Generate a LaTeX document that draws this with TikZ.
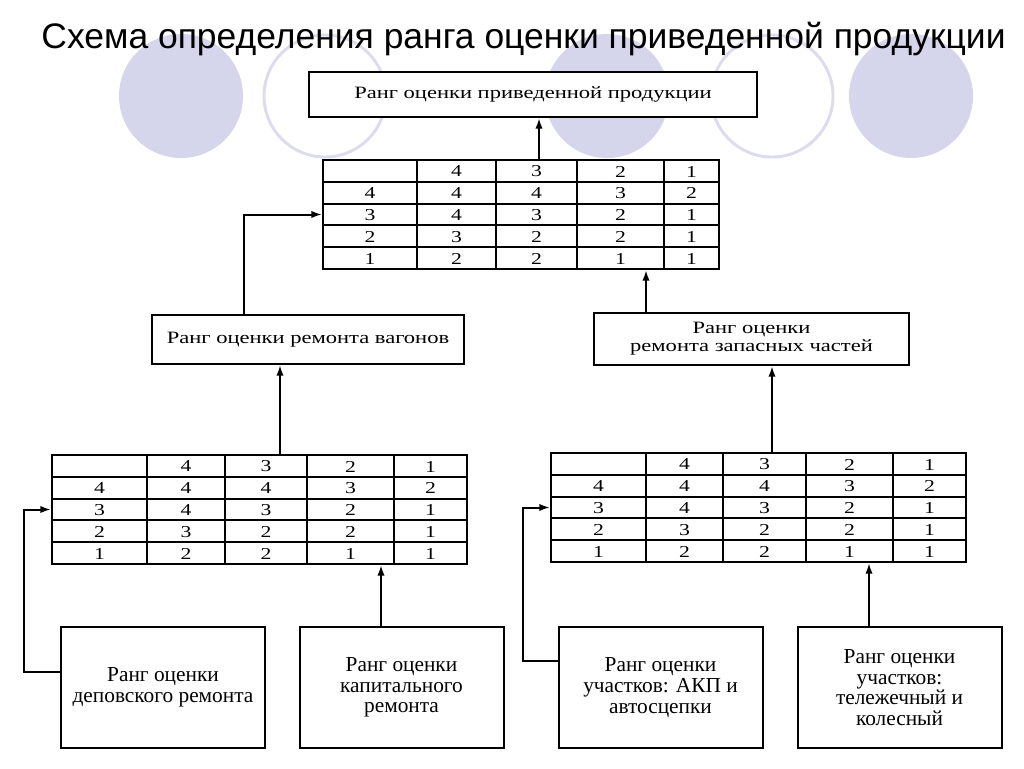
\documentclass[tikz,border=0pt]{standalone}
\usepackage{fontspec}
\setmainfont{Liberation Serif}
\newfontfamily\titlefont{Liberation Sans}
\newfontfamily\wideserif[FakeStretch=1.3]{Liberation Serif}
\usetikzlibrary{arrows.meta, positioning, fit, calc}

\definecolor{lavfill}{RGB}{213,213,235}
\definecolor{lavline}{RGB}{220,220,238}

\tikzset{
  rankbox/.style={draw=black, fill=white, line width=1.5pt, inner sep=0pt, align=center},
  widebox/.style={rankbox, font=\wideserif\fontsize{13}{13.5}\selectfont},
  lowbox/.style={rankbox, minimum width=153pt, minimum height=90.75pt, font=\fontsize{16}{15.5}\selectfont},
  cell/.style={inner sep=0pt, font=\wideserif\fontsize{12.5}{12.5}\selectfont},
  gridline/.style={line width=1.5pt},
  conn/.style={line width=1.5pt, -{Latex[length=8pt,width=5.5pt]}},
}

% таблица рангов: имя, границы столбцов, верхний край
\newcommand{\ranktable}[3]{%
  \def\tcols{{#2}}%
  \pgfmathsetmacro\tabl{\tcols[0]}%
  \pgfmathsetmacro\tabr{\tcols[5]}%
  \pgfmathsetmacro\tabb{#3+109}%
  \node[fit={(\tabl,#3) (\tabr,\tabb)}, inner sep=0pt, draw, fill=white, line width=1.5pt] (#1) {};
  \foreach \k in {1,...,4} {
    \pgfmathsetmacro\colx{\tcols[\k]}
    \draw[gridline] (\colx,#3) -- (\colx,\tabb);
    \draw[gridline] (\tabl,#3+\k*21.8) -- (\tabr,#3+\k*21.8);
  }
  \foreach \row [count=\ri from 0] in {{,4,3,2,1},{4,4,4,3,2},{3,4,3,2,1},{2,3,2,2,1},{1,2,2,1,1}} {
    \foreach \val [count=\ci from 0] in \row {
      \pgfmathsetmacro\xa{\tcols[\ci]}
      \pgfmathtruncatemacro\cj{\ci+1}
      \pgfmathsetmacro\xb{\tcols[\cj]}
      \node[cell] (#1-\ri-\ci) at ({(\xa+\xb)/2},#3+\ri*21.8+11.5) {\val};
    }
  }
}

\begin{document}
\begin{tikzpicture}[x=0.75pt, y=-0.75pt]
  \useasboundingbox (0,0) rectangle (1024,768);
  \fill[white] (0,0) rectangle (1024,768);

  % фоновые круги
  \fill[lavfill] (181,96) circle (62);
  \draw[lavline, line width=2.2pt] (325,96) circle (61);
  \fill[lavfill] (607,96) circle (62);
  \draw[lavline, line width=2.2pt] (772,96) circle (61);
  \fill[lavfill] (911,96) circle (62);

  \node[font=\titlefont\fontsize{26.6}{27}\selectfont, anchor=base] (title) at (523.5,48)
    {Схема определения ранга оценки приведенной продукции};

  \node[widebox, minimum width=336pt, minimum height=33.75pt] (prod) at (533,94.5)
    {Ранг оценки приведенной продукции};

  \ranktable{tabTop}{323,417,496,577,664,719}{160}

  \node[widebox, minimum width=234pt, minimum height=36.75pt] (vag) at (308,339.5)
    {Ранг оценки ремонта вагонов};
  \node[widebox, minimum width=236.25pt, minimum height=39pt] (zap) at (751.5,339)
    {Ранг оценки\\ремонта запасных частей};

  \ranktable{tabL}{52,147,225,307,394,467}{455}
  \ranktable{tabR}{551,646,723,806,893,966}{453}

  \node[lowbox] (dep) at (163,687.5) {Ранг оценки\\деповского ремонта};
  \node[lowbox] (kap) at (401.5,687.5) {Ранг оценки\\капитального\\ремонта};
  \node[lowbox] (akp) at (660.5,687.5) {Ранг оценки\\участков: АКП и\\автосцепки};
  \node[lowbox] (tel) at (899.5,687.5) {Ранг оценки\\участков:\\тележечный и\\колесный};

  % точки привязки стрелок
  \coordinate (xTop) at (539,0);
  \coordinate (xVag) at (244,0);
  \coordinate (xZap) at (646,0);
  \coordinate (xL) at (280,0);
  \coordinate (xR) at (772,0);
  \coordinate (xKap) at (381,0);
  \coordinate (xTel) at (869,0);
  \coordinate (yDep) at (0,672);
  \coordinate (yAkp) at (0,661);

  \draw[conn] (tabTop.north -| xTop) -- (prod.south -| xTop);
  \draw[conn] (vag.north -| xVag) |- (tabTop.west);
  \draw[conn] (zap.north -| xZap) -- (tabTop.south -| xZap);
  \draw[conn] (tabL.north -| xL) -- (vag.south -| xL);
  \draw[conn] (tabR.north -| xR) -- (zap.south -| xR);
  \draw[conn] (dep.west |- yDep) -- ++(-36,0) |- (tabL.west);
  \draw[conn] (kap.north -| xKap) -- (tabL.south -| xKap);
  \draw[conn] (akp.west |- yAkp) -- ++(-35,0) |- (tabR.west);
  \draw[conn] (tel.north -| xTel) -- (tabR.south -| xTel);
\end{tikzpicture}
\end{document}
